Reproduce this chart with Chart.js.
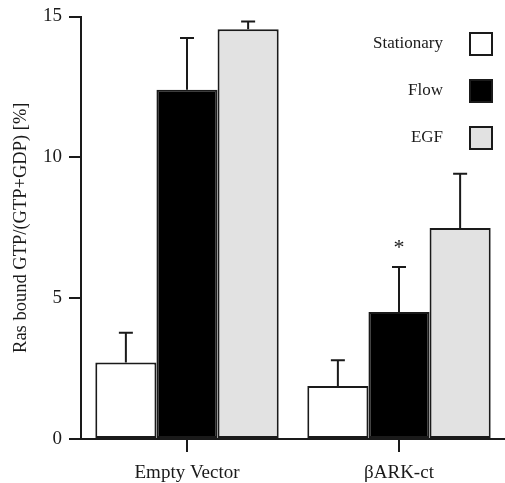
<!DOCTYPE html>
<html>
<head>
<meta charset="utf-8">
<script src="https://cdn.jsdelivr.net/npm/chart.js@4/dist/chart.umd.min.js"></script>
<style>
  html, body { margin: 0; padding: 0; background: #fff; }
  #wrap { width: 505px; height: 483px; position: relative; }
</style>
</head>
<body>
<div id="wrap"><canvas id="myChart"></canvas></div>
<script>
const categories = ['Empty Vector', 'βARK-ct']
const seriesNames = ['Stationary', 'Flow', 'EGF']
const stationary = [2.72, 1.88]
const flow = [12.4, 4.51]
const egf = [14.55, 7.49]
// upper error bar (SEM) sizes
const stationaryErr = [1.05, 0.92]
const flowErr = [1.84, 1.6]
const egfErr = [0.27, 1.93]
const yTicks = [0, 5, 10, 15]
// significance mark: [series index, category index]
const starMarks = [[1, 1]]

const FONT = "'Liberation Serif', 'Times New Roman', serif"
const INK = '#1a1a1a'

const errorBars = {
  id: 'errorBars',
  afterDatasetsDraw(chart) {
    const ctx = chart.ctx
    const yScale = chart.scales.y
    ctx.save()
    ctx.strokeStyle = INK
    ctx.lineWidth = 2
    chart.data.datasets.forEach((ds, i) => {
      const meta = chart.getDatasetMeta(i)
      meta.data.forEach((bar, j) => {
        const top = yScale.getPixelForValue(ds.data[j] + ds.err[j])
        ctx.beginPath()
        ctx.moveTo(bar.x, bar.y)
        ctx.lineTo(bar.x, top)
        ctx.moveTo(bar.x - 7, top)
        ctx.lineTo(bar.x + 7, top)
        ctx.stroke()
      })
    })
    ctx.fillStyle = INK
    ctx.font = '22px ' + FONT
    ctx.textAlign = 'center'
    ctx.textBaseline = 'bottom'
    starMarks.forEach(([i, j]) => {
      const ds = chart.data.datasets[i]
      const bar = chart.getDatasetMeta(i).data[j]
      const top = yScale.getPixelForValue(ds.data[j] + ds.err[j])
      ctx.fillText('*', bar.x, top - 8)
    })
    ctx.restore()
  }
}

const boxLegend = {
  id: 'boxLegend',
  afterDraw(chart) {
    const ctx = chart.ctx
    ctx.save()
    ctx.font = '17px ' + FONT
    ctx.textAlign = 'right'
    ctx.textBaseline = 'middle'
    chart.data.datasets.forEach((ds, i) => {
      const cy = 44 + i * 47
      ctx.fillStyle = INK
      ctx.fillText(ds.label, 443, cy)
      ctx.fillStyle = ds.backgroundColor
      ctx.fillRect(470, cy - 11, 22, 22)
      ctx.strokeStyle = INK
      ctx.lineWidth = 2
      ctx.strokeRect(470, cy - 11, 22, 22)
    })
    ctx.restore()
  }
}

const colors = ['#ffffff', '#000000', '#e2e2e2']
const values = [stationary, flow, egf]
const errs = [stationaryErr, flowErr, egfErr]

const data = {
  labels: categories,
  datasets: seriesNames.map((name, i) => ({
    label: name,
    data: values[i],
    err: errs[i],
    backgroundColor: colors[i],
    borderColor: INK,
    borderWidth: 2,
    borderSkipped: false,
    categoryPercentage: 0.865,
    barPercentage: 1
  }))
}

const config = {
  type: 'bar',
  data: data,
  options: {
    responsive: true,
    maintainAspectRatio: false,
    animation: false,
    layout: { padding: { top: 15, right: 0, left: 0, bottom: 0 } },
    plugins: {
      legend: { display: false },
      tooltip: { enabled: false }
    },
    scales: {
      x: {
        afterFit(s) { s.height = 44 },
        grid: {
          display: true,
          drawOnChartArea: false,
          drawTicks: true,
          tickLength: 13,
          offset: false,
          color: INK,
          lineWidth: 2
        },
        border: { display: true, color: INK, width: 2 },
        ticks: {
          color: INK,
          padding: 10,
          font: { family: FONT, size: 19 }
        }
      },
      y: {
        min: 0,
        max: 15,
        afterFit(s) { s.width = 81 },
        afterBuildTicks(s) { s.ticks = yTicks.map(v => ({ value: v })) },
        grid: {
          display: true,
          drawOnChartArea: false,
          drawTicks: true,
          tickLength: 12,
          color: INK,
          lineWidth: 2
        },
        border: { display: true, color: INK, width: 2 },
        ticks: {
          color: INK,
          padding: 7,
          font: { family: FONT, size: 19, lineHeight: 1 }
        },
        title: {
          display: true,
          text: 'Ras bound GTP/(GTP+GDP) [%]',
          color: INK,
          padding: { top: 10, bottom: 0 },
          font: { family: FONT, size: 18.5 }
        }
      }
    }
  },
  plugins: [errorBars, boxLegend]
}

const myChart = new Chart(document.getElementById('myChart'), config)
</script>
</body>
</html>
